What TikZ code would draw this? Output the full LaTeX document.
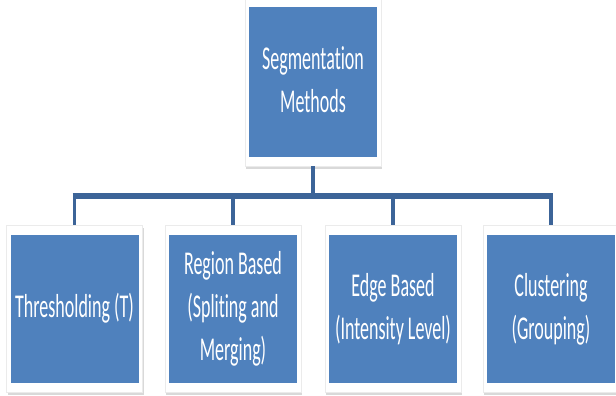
\documentclass[tikz,border=0pt]{standalone}
\usepackage{fontspec}
\usepackage{graphicx}
\setmainfont{Carlito}[Ligatures=NoCommon]
\usetikzlibrary{shadows}
\definecolor{boxblue}{RGB}{79,129,189}
\definecolor{linkblue}{RGB}{60,100,152}
\newcommand{\boxtext}[1]{\scalebox{1}[1.85]{\begin{tabular}{@{}c@{}}#1\end{tabular}}}
\begin{document}
\begin{tikzpicture}[x=1pt,y=-1pt,
  frame/.style={rectangle, fill=white, draw=black!8, line width=0.4pt, inner sep=0pt,
    minimum width=136pt, minimum height=167pt,
    drop shadow={shadow xshift=1.2pt, shadow yshift=-3.2pt, opacity=0.3, fill=black!50}},
  bluebox/.style={rectangle, fill=boxblue, inner sep=0pt, text=white,
    minimum width=128pt, minimum height=148pt,
    font=\fontsize{18}{23.3}\selectfont},
  conn/.style={draw=linkblue, line width=3.8pt},
  busline/.style={draw=linkblue, line width=5.6pt}]
\useasboundingbox (0,0) rectangle (616,396);
% top box
\node[frame, minimum height=170pt] (ftop) at (313,81) {};
\node[bluebox, minimum height=150pt] (top) at (313,82) {\boxtext{Segmentation\\Methods}};
% bottom boxes
\node[frame] (f1) at (74.5,308.5) {};
\node[bluebox] (b1) at (74.5,309) {\boxtext{Thresholding (T)}};
\node[frame] (f2) at (233,308.5) {};
\node[bluebox] (b2) at (233,309) {\boxtext{Region Based\\(Spliting and\\Merging)}};
\node[frame] (f3) at (393,308.5) {};
\node[bluebox] (b3) at (393,309) {\boxtext{Edge Based\\(Intensity Level)}};
\node[frame] (f4) at (551,308.5) {};
\node[bluebox] (b4) at (551,309) {\boxtext{Clustering\\(Grouping)}};
% connectors
\coordinate (bus) at (313,196);
\draw[conn] (ftop.south) -- (bus);
\foreach \i in {1,2,3,4} {\draw[conn] (bus -| f\i.north) -- (f\i.north);}
\draw[busline] ([xshift=-1.9pt]bus -| f1.north) -- ([xshift=1.9pt]bus -| f4.north);
\end{tikzpicture}
\end{document}
